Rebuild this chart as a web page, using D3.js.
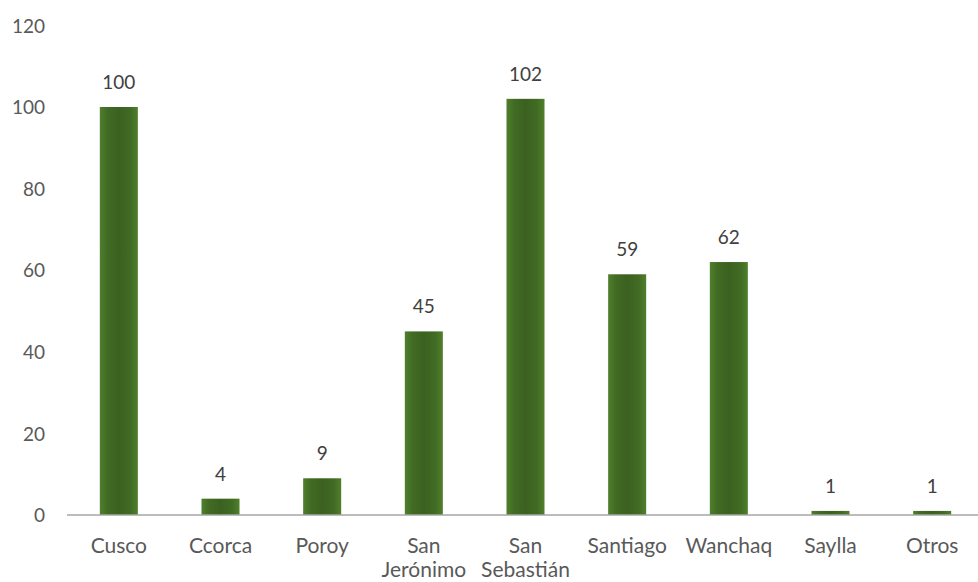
<!DOCTYPE html>
<html>
<head>
<meta charset="utf-8">
<script src="https://cdn.jsdelivr.net/npm/d3@7"></script>
<style>
  html, body { margin: 0; padding: 0; background: #fff; }
  svg { display: block; }
</style>
</head>
<body>
<svg id="chart" width="978" height="582"></svg>
<script>
const categories = [["Cusco"], ["Ccorca"], ["Poroy"], ["San", "Jerónimo"], ["San", "Sebastián"], ["Santiago"], ["Wanchaq"], ["Saylla"], ["Otros"]];
const values = [100, 4, 9, 45, 102, 59, 62, 1, 1];
const yTicks = [0, 20, 40, 60, 80, 100, 120];

const svg = d3.select("#chart");
const W = 978, H = 582;
const font = "Lato, 'Open Sans', sans-serif";

const keys = categories.map(c => c.join(" "));
const x = d3.scaleBand().domain(keys).range([68, 983]).paddingInner(0.626).paddingOuter(0.313);
const y = d3.scaleLinear().domain([0, 120]).range([515, 25.4]);

const defs = svg.append("defs");
const grad = defs.append("linearGradient").attr("id", "barGrad").attr("x1", "0%").attr("x2", "100%").attr("y1", "0%").attr("y2", "0%");
grad.append("stop").attr("offset", "0%").attr("stop-color", "#4f7f2b");
grad.append("stop").attr("offset", "20%").attr("stop-color", "#416b24");
grad.append("stop").attr("offset", "50%").attr("stop-color", "#3b6120");
grad.append("stop").attr("offset", "80%").attr("stop-color", "#416b24");
grad.append("stop").attr("offset", "100%").attr("stop-color", "#4f7f2b");

// y axis labels
const yAxis = d3.axisLeft(y).tickValues(yTicks).tickSize(0).tickPadding(0);
const yg = svg.append("g").attr("transform", "translate(45,0)").call(yAxis);
yg.select(".domain").remove();
yg.selectAll("text").attr("font-family", font).attr("font-size", 19).attr("fill", "#595959").attr("dy", "0.35em");

// bars
svg.append("g").selectAll("rect").data(values).join("rect")
  .attr("x", (d, i) => x(keys[i]))
  .attr("width", x.bandwidth())
  .attr("y", d => y(d))
  .attr("height", d => y(0) - y(d))
  .attr("fill", "url(#barGrad)");

// baseline axis
const xAxis = d3.axisBottom(x).tickSize(0).tickFormat("");
const xg = svg.append("g").attr("transform", `translate(0,${y(0)})`).call(xAxis);
xg.select(".domain").attr("stroke", "#a6a6a6").attr("stroke-width", 1.5).attr("d", `M67,0H978`);

// category labels
const catG = svg.append("g");
categories.forEach((lines, i) => {
  const t = catG.append("text")
    .attr("x", x(keys[i]) + x.bandwidth() / 2)
    .attr("y", 553)
    .attr("text-anchor", "middle")
    .attr("font-family", font)
    .attr("font-size", 21)
    .attr("fill", "#595959");
  lines.forEach((l, j) => {
    t.append("tspan").attr("x", x(keys[i]) + x.bandwidth() / 2).attr("dy", j === 0 ? 0 : 24).text(l);
  });
});

// data labels
svg.append("g").selectAll("text").data(values).join("text")
  .attr("x", (d, i) => x(keys[i]) + x.bandwidth() / 2)
  .attr("y", d => y(d) - 18)
  .attr("text-anchor", "middle")
  .attr("font-family", font)
  .attr("font-size", 19)
  .attr("fill", "#404040")
  .text(d => d);
</script>
</body>
</html>
